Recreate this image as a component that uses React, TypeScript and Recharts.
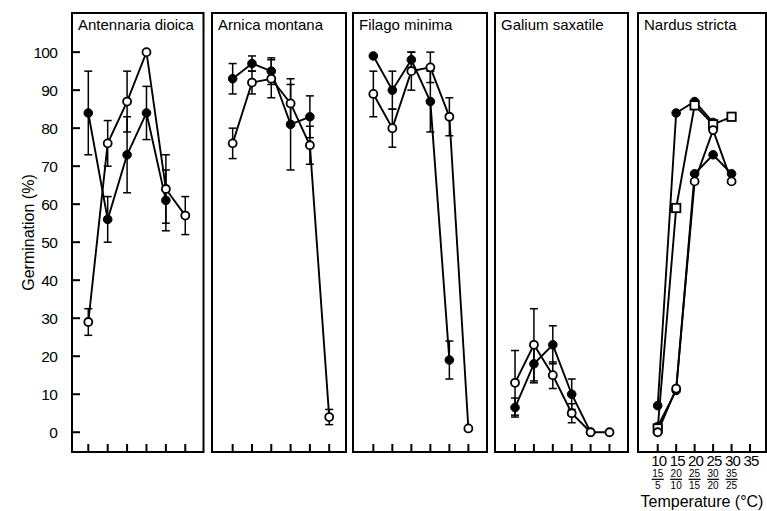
import React from "react";
import { LineChart, Line, XAxis, YAxis, ErrorBar, ReferenceArea } from "recharts";

const FONT = '"Liberation Sans", Arial, Helvetica, sans-serif';

// x positions (temperature regime index) for the first four species
const steps = [1, 2, 3, 4, 5, 6];
const yTicks = [0, 10, 20, 30, 40, 50, 60, 70, 80, 90, 100];

const antennariaFilled = [84, 56, 73, 84, 61, null];
const antennariaFilledErr = [11, 6, 10, 7, 8, null];
const antennariaOpen = [29, 76, 87, 100, 64, 57];
const antennariaOpenErr = [3.5, 6, 8, null, 9, 5];

const arnicaFilled = [93, 97, 95, 81, 83, null];
const arnicaFilledErr = [4, 2, 3.5, 12, 5.5, null];
const arnicaOpen = [76, 92, 93, 86.5, 75.5, 4];
const arnicaOpenErr = [4, 3, 5, 5, 5, 2];

const filagoFilled = [99, 90, 98, 87, 19, null];
const filagoFilledErr = [null, 5, 2, 8, 5, null];
const filagoOpen = [89, 80, 95, 96, 83, 1];
const filagoOpenErr = [6, 5, 5, 4, 5, null];

const galiumFilled = [6.5, 18, 23, 10, 0, null];
const galiumFilledErr = [2.5, 5, 5, 4, null, null];
const galiumOpen = [13, 23, 15, 5, 0, 0];
const galiumOpenErr = [8.5, 9.5, 3.5, 2.5, null, null];

// Nardus stricta: constant temperatures and alternating regimes
const nardusTemps = [10, 15, 20, 25, 30, 35];
const nardusAltHigh = ["15", "20", "25", "30", "35", ""];
const nardusAltLow = ["5", "10", "15", "20", "25", ""];
const nardusFilledHigh = [7, 84, 87, 81.5, null, null];
const nardusSquares = [1, 59, 86, 81, 83, null];
const nardusFilledLow = [1.5, 11, 68, 73, 68, null];
const nardusOpen = [0, 11.5, 66, 79.5, 66, null];

const Y_DOMAIN: [number, number] = [-5.2, 110.3];

const filledDot = { r: 4.3, fill: "#000", stroke: "#000", strokeWidth: 1 };
const openDot = { r: 4, fill: "#fff", stroke: "#000", strokeWidth: 1.8 };

const squareDot = (p: any) => {
  if (p.cy == null || p.value == null) return <g key={p.key} />;
  return (
    <rect key={p.key} x={p.cx - 4.2} y={p.cy - 4.2} width={8.4} height={8.4} fill="#fff" stroke="#000" strokeWidth={1.8} />
  );
};

const YTick = (props: any) => {
  const { x, y, payload, showLabel } = props;
  return (
    <g>
      <line x1={x} x2={x + 8} y1={y} y2={y} stroke="#000" strokeWidth={2} />
      {showLabel && (
        <text x={x - 15} y={y} dy={5.5} textAnchor="end" fontSize={15.5} letterSpacing={-0.8} fontFamily={FONT} fill="#000">
          {payload.value}
        </text>
      )}
    </g>
  );
};

const XTick = (props: any) => {
  const { x, y } = props;
  return <line x1={x} x2={x} y1={y} y2={y - 8} stroke="#000" strokeWidth={2} />;
};

const NardusTick = (props: any) => {
  const { x, y, payload, index } = props;
  const hi = nardusAltHigh[index];
  const lo = nardusAltLow[index];
  return (
    <g fontFamily={FONT} fill="#000">
      <line x1={x} x2={x} y1={y} y2={y - 8} stroke="#000" strokeWidth={2} />
      <text x={x + 1} y={y + 13.5} textAnchor="middle" fontSize={15} letterSpacing={-0.8}>
        {payload.value}
      </text>
      {hi && (
        <g>
          <text x={x} y={y + 25} textAnchor="middle" fontSize={10}>{hi}</text>
          <line x1={x - 6} x2={x + 6} y1={y + 27.3} y2={y + 27.3} stroke="#000" strokeWidth={1.2} />
          <text x={x} y={y + 36.5} textAnchor="middle" fontSize={10}>{lo}</text>
        </g>
      )}
    </g>
  );
};

type Pair = {
  title: string;
  left: number;
  width: number;
  domain: [number, number];
  filled: (number | null)[];
  filledErr: (number | null)[];
  open: (number | null)[];
  openErr: (number | null)[];
};

const panels: Pair[] = [
  { title: "Antennaria dioica", left: 72, width: 131.5, domain: [0.16, 6.94], filled: antennariaFilled, filledErr: antennariaFilledErr, open: antennariaOpen, openErr: antennariaOpenErr },
  { title: "Arnica montana", left: 212, width: 134, domain: [-0.07, 6.87], filled: arnicaFilled, filledErr: arnicaFilledErr, open: arnicaOpen, openErr: arnicaOpenErr },
  { title: "Filago minima", left: 353, width: 134, domain: [-0.07, 6.98], filled: filagoFilled, filledErr: filagoFilledErr, open: filagoOpen, openErr: filagoOpenErr },
  { title: "Galium saxatile", left: 495, width: 133, domain: [-0.06, 6.98], filled: galiumFilled, filledErr: galiumFilledErr, open: galiumOpen, openErr: galiumOpenErr },
];

const titleLabel = (title: string) => ({
  value: title,
  position: "insideTopLeft" as const,
  offset: 6,
  fontSize: 15,
  fontFamily: FONT,
  fill: "#000",
});

function SpeciesPanel({ p, first }: { p: Pair; first: boolean }) {
  const yW = first ? 72 : 0;
  const data = steps.map((s, i) => ({
    x: s,
    f: p.filled[i],
    fe: p.filledErr[i],
    o: p.open[i],
    oe: p.openErr[i],
  }));
  return (
    <div style={{ position: "absolute", left: p.left - 2 - yW, top: 0 }}>
      <LineChart width={p.width + 4 + yW} height={511} data={data} margin={{ top: 13, right: 2, bottom: 0, left: 2 }}>
        <XAxis dataKey="x" type="number" domain={p.domain} ticks={steps} allowDataOverflow interval={0}
          axisLine={false} tickLine={false} tickSize={0} tickMargin={0} height={59} tick={(t: any) => <XTick {...t} />} />
        <YAxis type="number" domain={Y_DOMAIN} ticks={yTicks} allowDataOverflow interval={0}
          axisLine={false} tickLine={false} tickSize={0} tickMargin={0} width={yW}
          tick={(t: any) => <YTick {...t} showLabel={first} />}
          label={first ? { value: "Germination (%)", angle: -90, position: "insideLeft", offset: 28, fontSize: 16, fontFamily: FONT, fill: "#000", style: { textAnchor: "middle" } } : undefined} />
        <ReferenceArea x1={p.domain[0]} x2={p.domain[1]} y1={Y_DOMAIN[0]} y2={Y_DOMAIN[1]} fill="none" stroke="#000" strokeWidth={2}
          fillOpacity={0} label={titleLabel(p.title)} />
        <Line dataKey="f" type="linear" stroke="#000" strokeWidth={1.9} dot={filledDot} isAnimationActive={false}>
          <ErrorBar dataKey="fe" direction="y" width={4} stroke="#000" strokeWidth={1.5} />
        </Line>
        <Line dataKey="o" type="linear" stroke="#000" strokeWidth={1.9} dot={openDot} isAnimationActive={false}>
          <ErrorBar dataKey="oe" direction="y" width={4} stroke="#000" strokeWidth={1.5} />
        </Line>
      </LineChart>
    </div>
  );
}

function NardusPanel() {
  const left = 638;
  const width = 128;
  const domain: [number, number] = [4.66, 39.33];
  const data = nardusTemps.map((t, i) => ({
    t,
    a: nardusFilledHigh[i],
    b: nardusSquares[i],
    c: nardusFilledLow[i],
    d: nardusOpen[i],
  }));
  return (
    <div style={{ position: "absolute", left: left - 2, top: 0 }}>
      <LineChart width={width + 4} height={511} data={data} margin={{ top: 13, right: 2, bottom: 0, left: 2 }}>
        <XAxis dataKey="t" type="number" domain={domain} ticks={nardusTemps} allowDataOverflow interval={0}
          axisLine={false} tickLine={false} tickSize={0} tickMargin={0} height={59}
          tick={(t: any) => <NardusTick {...t} />}
          label={{ value: "Temperature (°C)", position: "insideBottom", offset: 4, fontSize: 16, fontFamily: FONT, fill: "#000" }} />
        <YAxis type="number" domain={Y_DOMAIN} ticks={yTicks} allowDataOverflow interval={0}
          axisLine={false} tickLine={false} tickSize={0} tickMargin={0} width={0}
          tick={(t: any) => <YTick {...t} showLabel={false} />} />
        <ReferenceArea x1={domain[0]} x2={domain[1]} y1={Y_DOMAIN[0]} y2={Y_DOMAIN[1]} fill="none" stroke="#000" strokeWidth={2}
          fillOpacity={0} label={titleLabel("Nardus stricta")} />
        <Line dataKey="a" type="linear" stroke="#000" strokeWidth={1.9} dot={filledDot} isAnimationActive={false} />
        <Line dataKey="c" type="linear" stroke="#000" strokeWidth={1.9} dot={filledDot} isAnimationActive={false} />
        <Line dataKey="b" type="linear" stroke="#000" strokeWidth={1.9} dot={squareDot} isAnimationActive={false} />
        <Line dataKey="d" type="linear" stroke="#000" strokeWidth={1.9} dot={openDot} isAnimationActive={false} />
      </LineChart>
    </div>
  );
}

export default function App() {
  return (
    <div style={{ position: "absolute", left: 0, top: 0, width: 767, height: 511, overflow: "hidden", background: "#fff", fontFamily: FONT }}>
      {panels.map((p, i) => (
        <SpeciesPanel key={p.title} p={p} first={i === 0} />
      ))}
      <NardusPanel />
    </div>
  );
}
